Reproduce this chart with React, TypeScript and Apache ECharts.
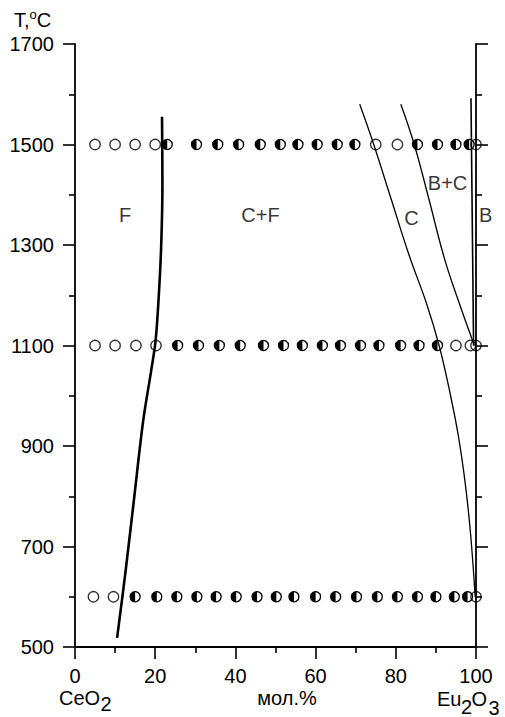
import React, { useEffect, useRef } from "react";
import * as echarts from "echarts";

const FONT = '"Liberation Sans", Arial, sans-serif';

// composition (mol.% Eu2O3) of the samples, per annealing temperature
const row1500Open = [5, 10, 15, 20, 75, 80.4, 100];
const row1500Half = [23, 30.3, 35.6, 40.8, 46.2, 51.2, 55.6, 60.4, 65.4, 69.8, 85.4, 90.4, 95, 98.3];
const row1100Open = [5, 10, 15.2, 20.2, 95, 98.6, 100];
const row1100Half = [25.6, 30.8, 36, 41.2, 47, 52, 56.7, 61.7, 66.2, 71.2, 75.8, 81.2, 85.8, 90.4];
const row600Open = [4.6, 9.6, 100];
const row600Half = [15, 20.4, 25.4, 30.4, 35.2, 40.2, 45.4, 50.2, 54.6, 60, 65, 70.2, 75.4, 80.4, 85.4, 90, 94.6, 97.9];

// phase boundaries [mol.%, T]
const fLine = [[10.5, 518], [12.6, 650], [14.8, 800], [17, 950], [19, 1050], [20.1, 1110], [20.9, 1200], [21.5, 1300], [21.8, 1420], [21.7, 1555]];
const cLine = [[71, 1580], [74.5, 1500], [78.9, 1390], [83.3, 1280], [87.6, 1185], [90.8, 1100], [93.4, 1010], [95.6, 920], [97.4, 820], [98.7, 720], [99.8, 600]];
const bcLine = [[81.25, 1580], [84.6, 1500], [88.3, 1390], [92.1, 1274], [96, 1180], [99.6, 1100]];
const bLine = [[98.75, 1592], [99.0, 1400], [99.4, 1100]];
const bLeader = [[102.1, 1337], [100.9, 1327], [99.8, 1321]];

// phase field labels
const phaseNames = ["F", "C+F", "C", "B+C", "B"];
const phasePos = [[12.5, 1359], [46.25, 1359], [83.9, 1354], [92.9, 1423], [102.4, 1359]];

const yMin = 500, yMax = 1700, yStep = 200;
const xMin = 0, xMax = 100, xStep = 20;

function App() {
  const ref = useRef<HTMLDivElement>(null);
  useEffect(() => {
    if (!ref.current) return;
    const chart = echarts.init(ref.current, null, { renderer: "svg" });

    const openPts = [
      ...row1500Open.map((x) => [x, 1500]),
      ...row1100Open.map((x) => [x, 1100]),
      ...row600Open.map((x) => [x, 600]),
    ];
    const halfPts = [
      ...row1500Half.map((x) => [x, 1500]),
      ...row1100Half.map((x) => [x, 1100]),
      ...row600Half.map((x) => [x, 600]),
    ];

    const axisLineStyle = { color: "#000", width: 1.8 };
    const tickStyle = { color: "#000", width: 1.6 };

    const yAxisBase = {
      type: "value",
      min: yMin,
      max: yMax,
      interval: yStep,
      splitLine: { show: false },
      axisLine: { show: true, onZero: false, lineStyle: axisLineStyle },
      axisTick: { show: true, inside: false, length: 12, lineStyle: tickStyle },
      minorTick: { show: true, splitNumber: 2, length: 6, lineStyle: tickStyle },
      minorSplitLine: { show: false },
    };

    const lineSeries = (data: number[][], width: number, smooth: number | boolean) => ({
      type: "line",
      data,
      smooth,
      symbol: "none",
      clip: false,
      silent: true,
      lineStyle: { color: "#000", width },
      z: 3,
    });

    const txt = (text: string, x: number, y: number, align = "left") => ({
      type: "text",
      x,
      y,
      style: { text, font: `20px ${FONT}`, fill: "#000", verticalAlign: "middle", align },
    });

    chart.setOption({
      animation: false,
      backgroundColor: "#fff",
      textStyle: { fontFamily: FONT },
      grid: { left: 75, right: 29, top: 44, bottom: 70, containLabel: false, outerBoundsMode: "none" },
      xAxis: {
        type: "value",
        min: xMin,
        max: xMax,
        interval: xStep,
        splitLine: { show: false },
        axisLine: { show: true, onZero: false, lineStyle: axisLineStyle },
        axisTick: { show: true, inside: false, length: 12, lineStyle: tickStyle },
        minorTick: { show: true, splitNumber: 2, length: 6, lineStyle: tickStyle },
        axisLabel: { color: "#000", fontSize: 20, fontFamily: FONT, margin: 19, formatter: (v: number) => String(v) },
      },
      yAxis: [
        {
          ...yAxisBase,
          position: "left",
          axisLabel: { color: "#000", fontSize: 20, fontFamily: FONT, margin: 21, formatter: (v: number) => String(v) },
        },
        {
          ...yAxisBase,
          position: "right",
          axisLabel: { show: false },
        },
      ],
      series: [
        lineSeries(fLine, 2.6, 0.35),
        lineSeries(cLine, 1.3, 0.4),
        lineSeries(bcLine, 1.3, 0.4),
        lineSeries(bLine, 1.6, false),
        lineSeries(bLeader, 1, 0.5),
        {
          type: "scatter",
          data: openPts,
          symbol: "circle",
          symbolSize: 10.4,
          itemStyle: { color: "rgba(0,0,0,0)", borderColor: "#000", borderWidth: 1.3 },
          z: 4,
          silent: true,
        },
        {
          type: "custom",
          data: halfPts,
          encode: { x: 0, y: 1 },
          silent: true,
          z: 4,
          renderItem: (params: any, api: any) => {
            const p = api.coord([api.value(0), api.value(1)]);
            const r = 5;
            return {
              type: "group",
              children: [
                {
                  type: "sector",
                  shape: { cx: p[0], cy: p[1], r0: 0, r, startAngle: Math.PI / 2, endAngle: Math.PI * 1.5, clockwise: true },
                  style: { fill: "#000" },
                },
                {
                  type: "circle",
                  shape: { cx: p[0], cy: p[1], r },
                  style: { fill: "none", stroke: "#000", lineWidth: 1.3 },
                },
              ],
            };
          },
        },
        {
          type: "scatter",
          data: phaseNames.map((n, i) => ({ name: n, value: phasePos[i] })),
          symbolSize: 1,
          clip: false,
          silent: true,
          itemStyle: { color: "rgba(0,0,0,0)" },
          label: { show: true, position: "inside", formatter: "{b}", color: "#000", fontSize: 20, fontFamily: FONT },
          z: 5,
        },
      ],
      graphic: [
        {
          type: "text",
          x: 14,
          y: 8,
          style: {
            text: "{a|T,}{b|o}{a|C}",
            fill: "#000",
            verticalAlign: "top",
            align: "left",
            rich: {
              a: { fontSize: 20, fontFamily: FONT, lineHeight: 22, verticalAlign: "bottom", fill: "#000" },
              b: { fontSize: 13, fontFamily: FONT, lineHeight: 13, verticalAlign: "top", fill: "#000" },
            },
          },
        },
        txt("CeO", 59, 698),
        txt("2", 100.5, 704),
        txt("мол.%", 287, 698, "center"),
        txt("Eu", 437, 698.5),
        txt("2", 461, 706.5),
        txt("O", 471.5, 698.5),
        txt("3", 488.5, 707.5),
      ],
    });

    return () => chart.dispose();
  }, []);

  return (
    <div
      ref={ref}
      style={{ position: "absolute", left: 0, top: 0, width: 505, height: 717, background: "#fff" }}
    />
  );
}

export default App;
